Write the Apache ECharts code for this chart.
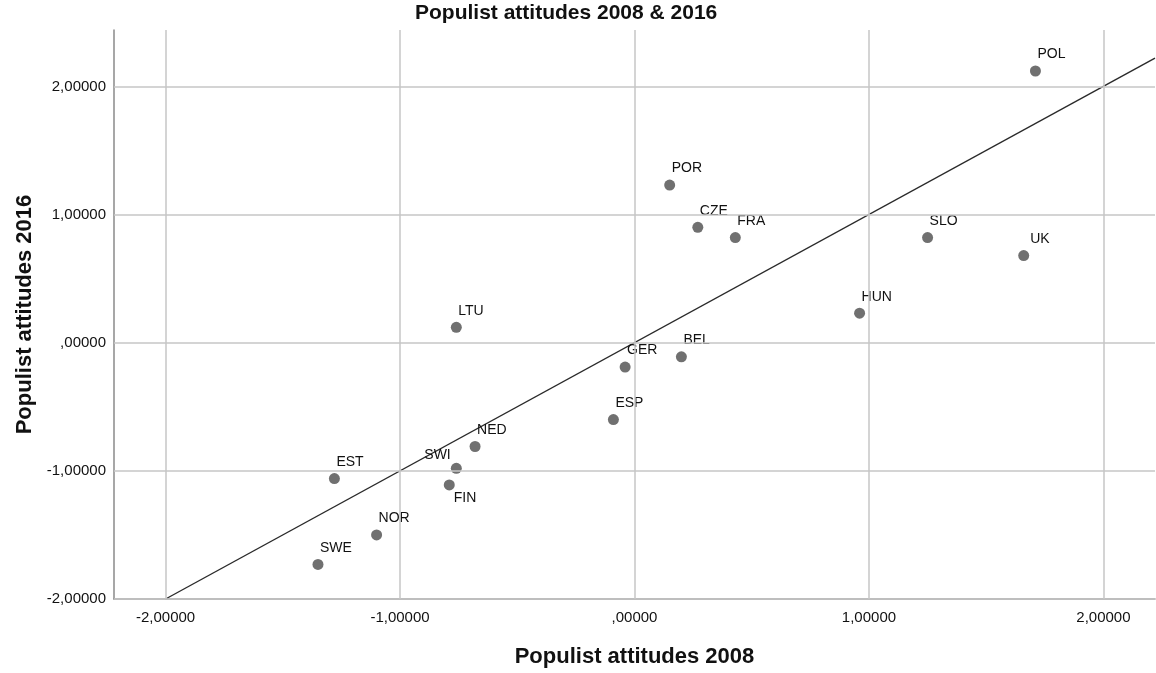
<!DOCTYPE html>
<html>
<head>
<meta charset="utf-8">
<script src="https://cdn.jsdelivr.net/npm/echarts@6/dist/echarts.min.js"></script>
<style>
html,body{margin:0;padding:0;background:#fff;}
#chart{width:1156px;height:673px;}
</style>
</head>
<body>
<div id="chart"></div>
<script>
// ---- data ----
const countries = ['POL','POR','CZE','FRA','SLO','UK','HUN','LTU','GER','BEL','ESP','NED','SWI','FIN','EST','NOR','SWE'];
const attitudes2008 = [1.71, 0.15, 0.27, 0.43, 1.25, 1.66, 0.96, -0.76, -0.04, 0.20, -0.09, -0.68, -0.76, -0.79, -1.28, -1.10, -1.35];
const attitudes2016 = [2.12, 1.23, 0.90, 0.82, 0.82, 0.68, 0.23, 0.12, -0.19, -0.11, -0.60, -0.81, -0.98, -1.11, -1.06, -1.50, -1.73];
const fitLineX = [-2, 2.22];
const fitLineY = [-2, 2.22];
const xTickValues = [-2, -1, 0, 1, 2];
const xTickLabels = ['-2,00000', '-1,00000', ',00000', '1,00000', '2,00000'];
const yTickValues = [-2, -1, 0, 1, 2];
const yTickLabels = ['-2,00000', '-1,00000', ',00000', '1,00000', '2,00000'];

// ---- label placement (style) ----
const defaultLabelPos = [7.5, -18];
const labelPosOverride = { 'SWI': [-26.5, -15], 'FIN': [10, 12], 'UK': [12, -17.5] };

const textColor = '#111111';
const font = 'Liberation Sans, Arial, sans-serif';

const scatterData = countries.map((c, i) => ({
  name: c,
  value: [attitudes2008[i], attitudes2016[i]],
  label: { position: labelPosOverride[c] || defaultLabelPos }
}));

const gridLineData = xTickValues.map(v => ({ xAxis: v })).concat(yTickValues.map(v => ({ yAxis: v })));

const chart = echarts.init(document.getElementById('chart'), null, { renderer: 'canvas' });
chart.setOption({
  backgroundColor: '#ffffff',
  animation: false,
  title: {
    text: 'Populist attitudes 2008 & 2016',
    left: 415, top: 3, padding: 0,
    textStyle: { fontFamily: font, fontSize: 21, fontWeight: 'bold', color: textColor }
  },
  grid: { left: 114, right: 1, top: 30, bottom: 71, containLabel: false },
  xAxis: {
    type: 'value', min: -2.22, max: 2.22,
    name: 'Populist attitudes 2008', nameLocation: 'middle', nameGap: 47,
    nameTextStyle: { fontFamily: font, fontSize: 22, fontWeight: 'bold', color: textColor },
    axisLine: { show: true, onZero: false, lineStyle: { color: '#8a8a8a', width: 1.5 } },
    axisTick: { show: false },
    splitLine: { show: false },
    axisLabel: {
      customValues: xTickValues,
      formatter: v => xTickLabels[xTickValues.indexOf(Math.round(v))],
      fontFamily: font, fontSize: 15, color: textColor, margin: 11
    }
  },
  yAxis: {
    type: 'value', min: -2, max: 2.44,
    name: 'Populist attitudes 2016', nameLocation: 'middle', nameGap: 64, nameRotate: 90,
    nameTextStyle: { fontFamily: font, fontSize: 22, fontWeight: 'bold', color: textColor },
    axisLine: { show: true, onZero: false, lineStyle: { color: '#8a8a8a', width: 1.5 } },
    axisTick: { show: false },
    splitLine: { show: false },
    axisLabel: {
      customValues: yTickValues,
      formatter: v => yTickLabels[yTickValues.indexOf(Math.round(v))],
      fontFamily: font, fontSize: 15, color: textColor, margin: 8
    }
  },
  series: [
    {
      name: 'grid', type: 'line', data: [], z: 1, silent: true,
      markLine: {
        silent: true, symbol: ['none', 'none'], label: { show: false },
        lineStyle: { color: '#c6c6c6', width: 1.5, type: 'solid' },
        emphasis: { disabled: true },
        animation: false,
        data: gridLineData
      }
    },
    {
      name: 'fit', type: 'line', z: 2, silent: true, showSymbol: false, symbol: 'none',
      data: fitLineX.map((x, i) => [x, fitLineY[i]]),
      lineStyle: { color: '#2a2a2a', width: 1.4 },
      clip: true
    },
    {
      name: 'countries', type: 'scatter', z: 3,
      symbolSize: 11,
      itemStyle: { color: '#707070', opacity: 1 },
      label: {
        show: true, formatter: p => p.name,
        fontFamily: font, fontSize: 14, color: textColor
      },
      data: scatterData
    }
  ]
});
</script>
</body>
</html>
